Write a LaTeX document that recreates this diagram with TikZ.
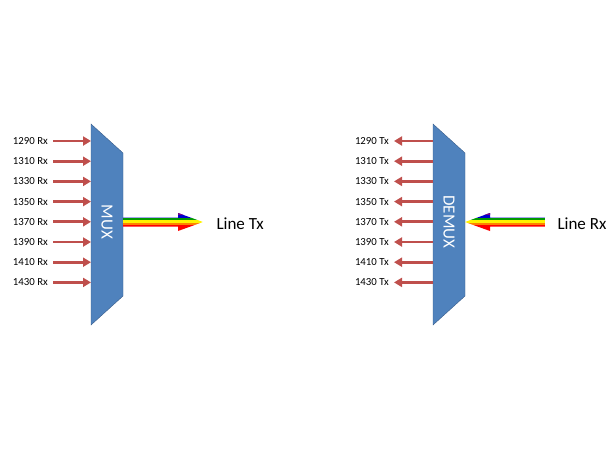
\documentclass[tikz,border=0pt]{standalone}
\usepackage{fontspec}
\setmainfont{Carlito}
\usetikzlibrary{arrows.meta}
\definecolor{boxblue}{rgb}{0.31, 0.51, 0.74}
\definecolor{boxline}{rgb}{0.22, 0.36, 0.54}
\definecolor{sigred}{rgb}{0.75, 0.31, 0.30}

\tikzset{
  chan/.style={sigred, line width=2.8pt, -{Triangle[length=8pt, width=9pt]}},
  lab/.style={anchor=east, font=\fontsize{10.8}{12}\selectfont, inner sep=1pt},
  big/.style={font=\fontsize{17}{20}\selectfont},
}

\newcommand{\rainbow}[2]{% tail x, tip x (y = 222)
  \begin{scope}
  \pgfmathsetmacro{\hx}{#2+0.3125*(#1-#2)}
  \clip (#1,217.5) -- (\hx,217.5) -- (\hx,213) -- (#2,222) -- (\hx,231) -- (\hx,226.5) -- (#1,226.5) -- cycle;
  \fill[blue!80!black] (#1,212) rectangle (#2,217.5);
  \fill[violet] (#1,212) rectangle (#2,215);
  \fill[green!60!black] (#1,217.5) rectangle (#2,219.5);
  \fill[yellow] (#1,219.5) rectangle (#2,222.5);
  \fill[orange] (#1,222.5) rectangle (#2,224.5);
  \fill[red] (#1,224.5) rectangle (#2,232);
  \end{scope}}

\begin{document}
\begin{tikzpicture}[x=1pt, y=-1pt]
\useasboundingbox (0,0) rectangle (610,450);

%multiplexer
\draw[boxline, fill=boxblue] (91,124) -- (123,153) -- (123,296) -- (91,325) -- cycle;
\node[white, big, rotate=-90] (mux) at (107,222) {MUX};
\rainbow{123}{203}
\node[big, anchor=west] (ltx) at (213,224) {Line Tx};

\foreach \w [count=\i from 0] in {1290,1310,1330,1350,1370,1390,1410,1430} {
  \node[lab] (rx\i) at (49,141+20.2*\i) {\w\ Rx};
  \coordinate (in\i) at (91,141+20.2*\i);
  \draw[chan] (rx\i.east) ++(4,0) coordinate (s\i) (s\i) -- (in\i);
}

%demultiplexer
\draw[boxline, fill=boxblue] (433,124) -- (465,153) -- (465,296) -- (433,325) -- cycle;
\node[white, big, rotate=-90] (demux) at (449,222) {DEMUX};
\rainbow{545}{465}
\node[big, anchor=west] (lrx) at (554,224) {Line Rx};

\foreach \w [count=\i from 0] in {1290,1310,1330,1350,1370,1390,1410,1430} {
  \node[lab] (tx\i) at (390,141+20.2*\i) {\w\ Tx};
  \coordinate (out\i) at (433,141+20.2*\i);
  \draw[chan] (out\i) -- ([xshift=4pt]tx\i.east);
}

\end{tikzpicture}
\end{document}
